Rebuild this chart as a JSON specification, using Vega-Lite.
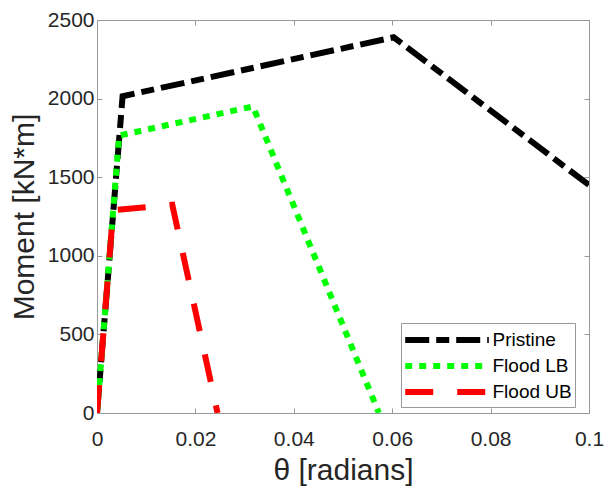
{
  "$schema": "https://vega.github.io/schema/vega-lite/v6.json",
  "width": 492,
  "height": 393,
  "autosize": "none",
  "padding": {"left": 97, "top": 20, "right": 17, "bottom": 73},
  "background": "white",
  "config": {
    "view": {"stroke": "#999999", "strokeWidth": 1},
    "font": "Liberation Sans",
    "axis": {
      "grid": false,
      "domainColor": "#999999",
      "tickColor": "#999999",
      "labelColor": "#262626",
      "titleColor": "#262626",
      "labelFont": "Liberation Sans",
      "titleFont": "Liberation Sans",
      "labelFontSize": 21,
      "titleFontSize": 30,
      "titleFontWeight": "normal",
      "labelFlush": false,
      "tickSize": -5
    }
  },
  "data": {
    "values": [
      {"series": "Pristine", "o": 0, "x": 0, "y": 0},
      {"series": "Pristine", "o": 1, "x": 0.0052, "y": 2015},
      {"series": "Pristine", "o": 2, "x": 0.0603, "y": 2390},
      {"series": "Pristine", "o": 3, "x": 0.1, "y": 1450},
      {"series": "Flood LB", "o": 0, "x": 0, "y": 0},
      {"series": "Flood LB", "o": 1, "x": 0.0045, "y": 1765},
      {"series": "Flood LB", "o": 2, "x": 0.0317, "y": 1950},
      {"series": "Flood LB", "o": 3, "x": 0.0573, "y": 0},
      {"series": "Flood UB", "o": 0, "x": 0, "y": 0},
      {"series": "Flood UB", "o": 1, "x": 0.0033, "y": 1290},
      {"series": "Flood UB", "o": 2, "x": 0.0153, "y": 1325},
      {"series": "Flood UB", "o": 3, "x": 0.0245, "y": 0}
    ]
  },
  "layer": [
    {
      "mark": {"type": "line", "strokeWidth": 6, "clip": true},
      "encoding": {
        "x": {
          "field": "x", "type": "quantitative",
          "scale": {"domain": [0, 0.1], "nice": false},
          "axis": {"values": [0, 0.02, 0.04, 0.06, 0.08, 0.1], "format": "~g", "title": "θ [radians]", "labelPadding": 20, "titlePadding": 6}
        },
        "y": {
          "field": "y", "type": "quantitative",
          "scale": {"domain": [0, 2500], "nice": false},
          "axis": {"values": [0, 500, 1000, 1500, 2000, 2500], "format": "d", "title": "Moment [kN*m]", "labelPadding": 8, "titlePadding": 8}
        },
        "order": {"field": "o"},
        "color": {
          "field": "series", "type": "nominal",
          "scale": {"domain": ["Pristine", "Flood LB", "Flood UB"], "range": ["#000000", "#00ff00", "#ff0000"]},
          "legend": {
            "title": null,
            "orient": "none",
            "legendX": 304,
            "legendY": 303,
            "symbolType": "M-3.8,0H3.8",
            "symbolSize": 484,
            "symbolStrokeWidth": 6,
            "symbolOffset": 29,
            "labelFontSize": 19,
            "labelColor": "#000000",
            "labelFont": "Liberation Sans",
            "labelExpr": "datum.label + '\u2003'",
            "strokeColor": "#999999",
            "fillColor": "white",
            "padding": 3,
            "rowPadding": 0,
            "labelOffset": 31.5
          }
        },
        "strokeDash": {
          "field": "series", "type": "nominal",
          "scale": {"domain": ["Pristine", "Flood LB", "Flood UB"], "range": [[24, 7, 13, 7], [7, 7], [28, 24]]},
          "legend": null
        }
      }
    },
    {
      "mark": {"type": "line", "opacity": 0},
      "encoding": {
        "x": {"field": "x", "type": "quantitative", "axis": {"orient": "top", "values": [0, 0.02, 0.04, 0.06, 0.08, 0.1], "labels": false, "title": null}},
        "y": {"field": "y", "type": "quantitative", "axis": {"orient": "right", "values": [0, 500, 1000, 1500, 2000, 2500], "labels": false, "title": null}},
        "detail": {"field": "series"}
      }
    }
  ],
  "resolve": {"axis": {"x": "independent", "y": "independent"}}
}
